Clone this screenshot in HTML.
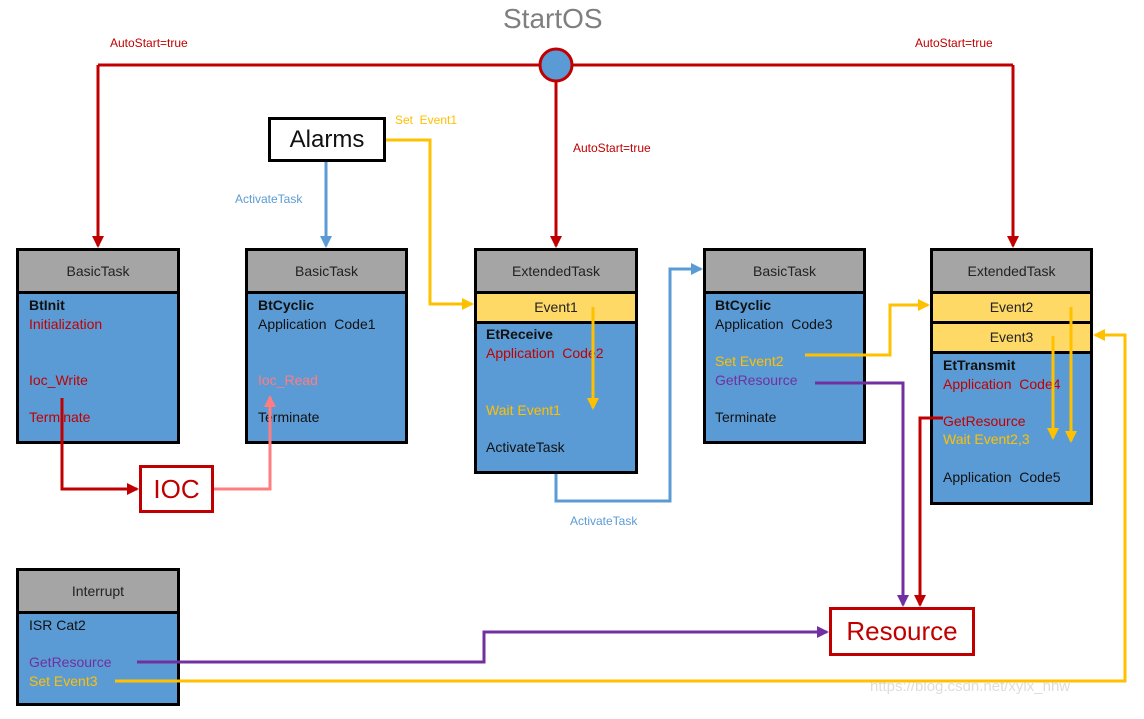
<!DOCTYPE html>
<html><head><meta charset="utf-8"><style>
body{margin:0;width:1144px;height:719px;background:#fff;position:relative;overflow:hidden;font-family:"Liberation Sans",sans-serif}
.b{position:absolute;border:3px solid #000;background:#5b9bd5;box-sizing:border-box}
.h{background:#a5a5a5;height:40px;border-bottom:3px solid #000;text-align:center;line-height:40px;font-size:14px;color:#222}
.e{background:#ffd966;height:27px;border-bottom:3px solid #000;text-align:center;line-height:27px;font-size:14px;color:#222}
.t{position:absolute;font-size:14px;white-space:nowrap}
.k{color:#111}.r{color:#c00000}.y{color:#ffc000}.p{color:#7030a0}.bo{font-weight:bold}
.lb{position:absolute;font-size:12px;white-space:nowrap}
.bx{position:absolute;border:3px solid #c00000;background:#fff;box-sizing:border-box;text-align:center;color:#c00000}
svg{position:absolute;left:0;top:0}
</style></head><body>
<div style="position:absolute;left:503px;top:3px;font-size:28px;color:#7f7f7f">StartOS</div>

<div class="b" style="left:16px;top:248px;width:164px;height:196px"><div class="h">BasicTask</div></div>
<div class="t k bo" style="left:29px;top:297px">BtInit</div>
<div class="t r" style="left:29px;top:316px">Initialization</div>
<div class="t r" style="left:29px;top:372px">Ioc_Write</div>
<div class="t r" style="left:29px;top:409px">Terminate</div>

<div class="b" style="left:245px;top:248px;width:163px;height:196px"><div class="h">BasicTask</div></div>
<div class="t k bo" style="left:258px;top:297px">BtCyclic</div>
<div class="t k" style="left:258px;top:316px">Application&nbsp; Code1</div>
<div class="t" style="left:258px;top:372px;color:#ff7c80">Ioc_Read</div>
<div class="t k" style="left:258px;top:409px">Terminate</div>

<div class="b" style="left:474px;top:248px;width:164px;height:226px"><div class="h">ExtendedTask</div><div class="e">Event1</div></div>
<div class="t k bo" style="left:486px;top:326px">EtReceive</div>
<div class="t r" style="left:486px;top:345px">Application&nbsp; Code2</div>
<div class="t y" style="left:486px;top:402px">Wait Event1</div>
<div class="t k" style="left:486px;top:439px">ActivateTask</div>

<div class="b" style="left:703px;top:248px;width:163px;height:196px"><div class="h">BasicTask</div></div>
<div class="t k bo" style="left:715px;top:297px">BtCyclic</div>
<div class="t k" style="left:715px;top:316px">Application&nbsp; Code3</div>
<div class="t y" style="left:715px;top:353px">Set Event2</div>
<div class="t p" style="left:715px;top:372px">GetResource</div>
<div class="t k" style="left:715px;top:409px">Terminate</div>

<div class="b" style="left:930px;top:248px;width:163px;height:257px"><div class="h">ExtendedTask</div><div class="e">Event2</div><div class="e">Event3</div></div>
<div class="t k bo" style="left:943px;top:357px">EtTransmit</div>
<div class="t r" style="left:943px;top:376px">Application&nbsp; Code4</div>
<div class="t r" style="left:943px;top:413px">GetResource</div>
<div class="t y" style="left:943px;top:431px">Wait Event2,3</div>
<div class="t k" style="left:943px;top:469px">Application&nbsp; Code5</div>

<div class="b" style="left:16px;top:568px;width:164px;height:138px"><div class="h">Interrupt</div></div>
<div class="t k" style="left:29px;top:617px">ISR Cat2</div>
<div class="t p" style="left:29px;top:654px">GetResource</div>
<div class="t y" style="left:29px;top:673px">Set Event3</div>

<div style="position:absolute;left:268px;top:117px;width:118px;height:45px;border:3px solid #000;box-sizing:border-box;background:#fff;text-align:center;line-height:39px;font-size:24px;color:#111">Alarms</div>
<div class="bx" style="left:139px;top:465px;width:75px;height:48px;line-height:42px;font-size:26px">IOC</div>
<div class="bx" style="left:829px;top:607px;width:146px;height:49px;line-height:43px;font-size:26px">Resource</div>

<div class="lb r" style="left:110px;top:36px">AutoStart=true</div>
<div class="lb r" style="left:915px;top:36px">AutoStart=true</div>
<div class="lb r" style="left:573px;top:141px">AutoStart=true</div>
<div class="lb" style="left:235px;top:192px;color:#5b9bd5">ActivateTask</div>
<div class="lb" style="left:570px;top:514px;color:#5b9bd5">ActivateTask</div>
<div class="lb y" style="left:395px;top:113px">Set&nbsp; Event1</div>
<div class="lb" style="left:870px;top:678px;font-size:15px;color:#ddd">https://blog.csdn.net/xylx_hhw</div>

<svg width="1144" height="719" viewBox="0 0 1144 719">
<defs>
<marker id="mr" markerWidth="12" markerHeight="12" refX="10" refY="6" orient="auto" markerUnits="userSpaceOnUse"><path d="M0,0L12,6L0,12z" fill="#c00000"/></marker>
<marker id="mp" markerWidth="12" markerHeight="12" refX="10" refY="6" orient="auto" markerUnits="userSpaceOnUse"><path d="M0,0L12,6L0,12z" fill="#ff7c80"/></marker>
<marker id="mb" markerWidth="12" markerHeight="12" refX="10" refY="6" orient="auto" markerUnits="userSpaceOnUse"><path d="M0,0L12,6L0,12z" fill="#5b9bd5"/></marker>
<marker id="my" markerWidth="12" markerHeight="12" refX="10" refY="6" orient="auto" markerUnits="userSpaceOnUse"><path d="M0,0L12,6L0,12z" fill="#ffc000"/></marker>
<marker id="mv" markerWidth="12" markerHeight="12" refX="10" refY="6" orient="auto" markerUnits="userSpaceOnUse"><path d="M0,0L12,6L0,12z" fill="#7030a0"/></marker>
</defs>
<g fill="none" stroke-width="3">
<path d="M98,65H1013" stroke="#c00000"/>
<path d="M98,65V246" stroke="#c00000" marker-end="url(#mr)"/>
<path d="M1013,65V246" stroke="#c00000" marker-end="url(#mr)"/>
<path d="M556,80V246" stroke="#c00000" marker-end="url(#mr)"/>
<path d="M326,162V246" stroke="#5b9bd5" marker-end="url(#mb)"/>
<path d="M386,140H430V304H472" stroke="#ffc000" marker-end="url(#my)"/>
<path d="M593,307V408" stroke="#ffc000" marker-end="url(#my)"/>
<path d="M556,474V501H670V269H701" stroke="#5b9bd5" marker-end="url(#mb)"/>
<path d="M805,355H890V305H928" stroke="#ffc000" marker-end="url(#my)"/>
<path d="M815,383H903V605" stroke="#7030a0" marker-end="url(#mv)"/>
<path d="M943,418H920V605" stroke="#c00000" marker-end="url(#mr)"/>
<path d="M1071,307V441" stroke="#ffc000" marker-end="url(#my)"/>
<path d="M1053,336V438" stroke="#ffc000" marker-end="url(#my)"/>
<path d="M62,398V489H137" stroke="#c00000" marker-end="url(#mr)"/>
<path d="M214,489H270V397" stroke="#ff7c80" marker-end="url(#mp)"/>
<path d="M137,662H484V632H827" stroke="#7030a0" marker-end="url(#mv)"/>
<path d="M115,681H1125V335H1095" stroke="#ffc000" marker-end="url(#my)"/>
</g>
<circle cx="556" cy="65" r="16" fill="#5b9bd5" stroke="#c00000" stroke-width="3"/>
</svg>
</body></html>
